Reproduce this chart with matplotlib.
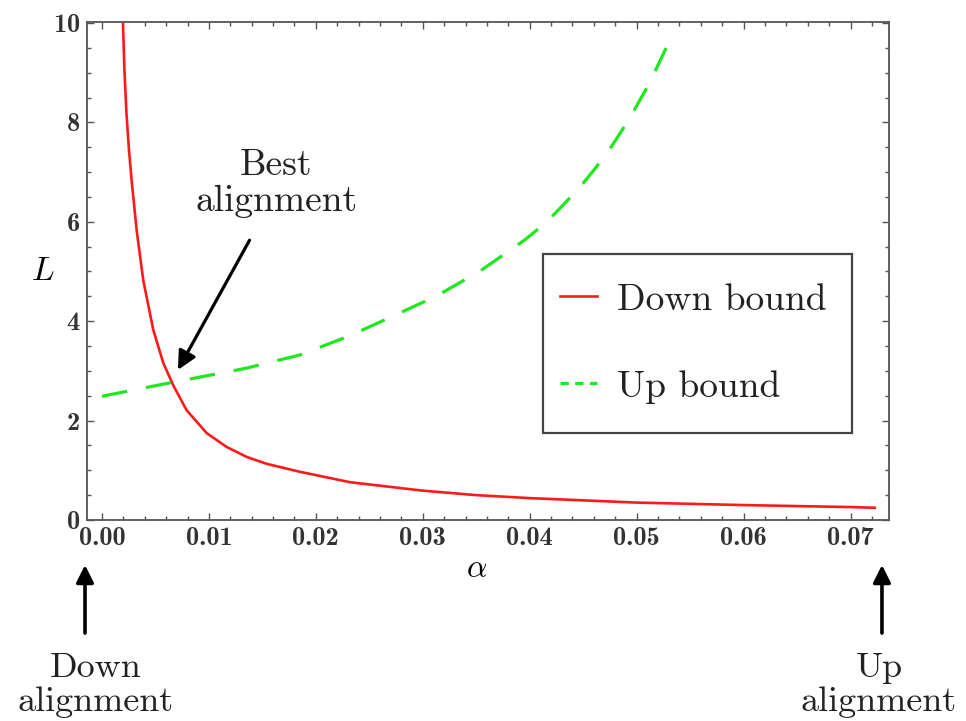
import matplotlib
matplotlib.use("Agg")
import matplotlib.pyplot as plt
from matplotlib.lines import Line2D
from matplotlib.patches import Rectangle
from matplotlib.ticker import MultipleLocator

plt.rcParams['font.family'] = ['cmr10', 'DejaVu Serif']
plt.rcParams['mathtext.fontset'] = 'cm'
plt.rcParams['axes.formatter.use_mathtext'] = True

# values
down_alpha = [0.00196, 0.00209, 0.00228, 0.00252, 0.00277, 0.00324, 0.00386, 0.0048,
              0.00573, 0.00666, 0.00791, 0.00978, 0.01165, 0.01352, 0.0154, 0.0185,
              0.0232, 0.030, 0.035, 0.040, 0.050, 0.060, 0.070, 0.0724]
down_L = [10.0, 9.1, 8.2, 7.45, 6.83, 5.83, 4.82, 3.82,
          3.16, 2.71, 2.21, 1.75, 1.47, 1.27, 1.13, 0.97,
          0.76, 0.59, 0.50, 0.44, 0.35, 0.30, 0.26, 0.245]

up_alpha = [0.0, 0.0066, 0.0134, 0.0185, 0.0232, 0.0272, 0.0313, 0.0353,
            0.0395, 0.04156, 0.04296, 0.04467, 0.04607, 0.04748, 0.04857, 0.04981,
            0.05091, 0.05184, 0.05278]
up_L = [2.49, 2.77, 3.05, 3.32, 3.71, 4.10, 4.51, 5.00,
        5.63, 5.99, 6.30, 6.69, 7.06, 7.46, 7.82, 8.26,
        8.68, 9.08, 9.51]

x_ticks = [0.00, 0.01, 0.02, 0.03, 0.04, 0.05, 0.06, 0.07]
x_ticklabels = ['0.00', '0.01', '0.02', '0.03', '0.04', '0.05', '0.06', '0.07']
y_ticks = [0, 2, 4, 6, 8, 10]
legend_labels = ['Down bound', 'Up bound']

red = '#ff1a1a'
green = '#1fe81f'

fig = plt.figure(figsize=(9.66, 7.21), dpi=100)
ax = fig.add_axes([0.0901, 0.2788, 0.8302, 0.6907])

ax.plot(down_alpha, down_L, color=red, lw=1.9, solid_capstyle='butt')
ax.plot(up_alpha, up_L, color=green, lw=2.3, dashes=(8, 6))

ax.set_xlim(-0.0014, 0.0736)
ax.set_ylim(0, 10.02)
ax.set_xticks(x_ticks)
ax.set_xticklabels(x_ticklabels)
ax.set_yticks(y_ticks)
ax.xaxis.set_minor_locator(MultipleLocator(0.002))
ax.yaxis.set_minor_locator(MultipleLocator(0.5))
ax.tick_params(which='both', direction='in', top=True, right=True,
               color='#555555', width=1.0)
ax.tick_params(which='major', length=5, labelsize=19, pad=5, labelcolor='#333333')
ax.tick_params(which='minor', length=3)
for lab in ax.get_xticklabels() + ax.get_yticklabels():
    lab.set_fontfamily(['cmb10', 'DejaVu Serif'])
for sp in ax.spines.values():
    sp.set_color('#555555')
    sp.set_linewidth(1.3)

ax.set_xlabel(r'$\alpha$', fontsize=23, va='center')
ax.set_ylabel(r'$L$', fontsize=24, rotation=0, va='center', ha='center')
ax.xaxis.set_label_coords(0.486, -0.10)
ax.yaxis.set_label_coords(-0.055, 0.50)

# legend: box drawn separately so the padding can differ per side
ax.add_patch(Rectangle((0.5686, 0.1747), 0.3853, 0.3594, transform=ax.transAxes,
                       facecolor='white', edgecolor='#444444', lw=1.6, zorder=4))
handles = [Line2D([], [], color=red, lw=1.9),
           Line2D([], [], color=green, lw=2.3, dashes=(2.6, 2.0))]
leg = ax.legend(handles, legend_labels, loc='center left',
                bbox_to_anchor=(0.5898, 0.3544), fontsize=27, frameon=False,
                handlelength=0.98, handletextpad=0.53, borderpad=0,
                labelspacing=1.42, borderaxespad=0)
leg.set_zorder(5)
for t in leg.get_texts():
    t.set_color('#222222')

# best alignment label and arrow
ax.text(0.0163, 6.78, 'Best\nalignment', fontsize=27, ha='center', va='center',
        multialignment='center', linespacing=1.1, color='#222222')
ax.annotate('', xy=(0.0071, 3.02), xytext=(0.0138, 5.63),
            arrowprops=dict(arrowstyle='-|>', lw=2.3, color='black',
                            mutation_scale=28, shrinkA=0, shrinkB=0))

# arrows and labels under the axis
for xf in (0.088, 0.913):
    ax.annotate('', xy=(xf, 0.2164), xytext=(xf, 0.122),
                xycoords='figure fraction', textcoords='figure fraction',
                arrowprops=dict(arrowstyle='-|>', lw=2.6, color='black',
                                mutation_scale=26, shrinkA=0, shrinkB=0))
fig.text(0.0994, 0.050, 'Down\nalignment', fontsize=26, ha='center', va='center',
         multialignment='center', linespacing=1.1, color='#222222')
fig.text(0.910, 0.050, 'Up\nalignment', fontsize=26, ha='center', va='center',
         multialignment='center', linespacing=1.1, color='#222222')

fig.savefig('out.png', dpi=100)
